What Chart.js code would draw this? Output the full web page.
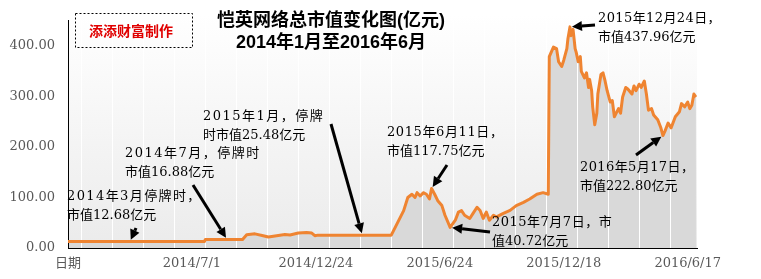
<!DOCTYPE html>
<html>
<head>
<meta charset="utf-8">
<script src="https://cdn.jsdelivr.net/npm/chart.js@4.4.0/dist/chart.umd.min.js"></script>
<style>
  html, body { margin: 0; padding: 0; background: #fff; }
  #wrap { width: 761px; height: 279px; }
  canvas { background: linear-gradient(#ffffff, #ebebeb) 68px 15px / 629px 233px no-repeat; }
</style>
</head>
<body>
<div id="wrap"><canvas id="c" width="761" height="279"></canvas></div>
<script>
// trading-day index since the start of 2014
const dayIdx = [
  0, 132, 133, 169, 173, 181, 189, 194, 202, 210, 215, 223, 231, 236, 239, 242, 313,
  325, 329, 333, 336, 338, 341, 344, 347, 350, 352, 355, 358, 362, 365, 370, 375, 378,
  381, 384, 389, 392, 396, 399, 402, 405, 408, 412, 415, 421, 428, 434, 441, 447, 454,
  460, 465, 466, 470, 473, 475, 478, 480, 483, 484, 486, 487, 489, 491, 492, 494, 496,
  497, 500, 502, 504, 505, 507, 508, 510, 512, 513, 516, 518, 520, 522, 525, 527, 529,
  533, 535, 537, 540, 542, 546, 548, 550, 553, 555, 558, 560, 562, 565, 567, 571, 574,
  576, 578, 581, 584, 588, 592, 594, 597, 600, 602, 604, 606, 608
];
// total market value, 100 million yuan
const marketCap = [
  12.68, 12.68, 16.88, 16.88, 26.3, 28.0, 24.4, 21.9, 24.4, 26.9, 25.8, 29.6, 30.8, 29.6, 24.4, 25.48, 25.48,
  74.0, 100.0, 106.5, 100.0, 109.6, 103.0, 109.6, 106.5, 97.0, 117.75, 106.5, 93.7, 84.0, 64.8, 40.72, 55.0, 71.0,
  74.0, 64.8, 58.5, 68.0, 80.8, 74.4, 58.5, 71.0, 55.0, 64.8, 61.5, 68.0, 74.4, 84.0, 90.4, 97.0, 106.5,
  109.6, 106.5, 379.0, 398.0, 395.0, 369.0, 359.6, 372.0, 395.0, 414.0, 437.96, 420.6, 433.0, 395.0, 388.0, 369.0, 379.0,
  350.0, 337.0, 347.0, 318.0, 334.0, 311.5, 279.6, 244.0, 266.7, 305.0, 343.7, 347.0, 330.8, 311.5, 289.0, 292.0, 260.0,
  276.0, 267.0, 299.0, 318.0, 315.0, 305.0, 321.0, 311.5, 324.4, 318.0, 330.8, 305.0, 273.0, 276.0, 263.5, 254.0, 238.0,
  222.8, 231.5, 247.5, 238.0, 260.0, 270.0, 286.0, 279.6, 289.0, 276.0, 282.7, 305.0, 299.0
];

const tickIdx = [0, 120, 240, 360, 480, 600];
const tickLabels = ['日期', '2014/7/1', '2014/12/24', '2015/6/24', '2015/12/18', '2016/6/17'];
const gridIdx = [13, 43, 73, 103, 133, 163, 193, 223, 253, 283, 313, 343, 373, 403, 433, 463, 493, 523, 553, 583];
const yTicks = [0, 100, 200, 300, 400];

const titleLines = ['恺英网络总市值变化图(亿元)', '2014年1月至2016年6月'];
const stampText = '添添财富制作';

// callouts: day = which point the arrow hits, text/tail are screen offsets
const notes = [
  { day: 60,  lines: ['2014年3月停牌时，', '市值12.68亿元'], tx: 67,  ty: 197, sp: 1.4, tail: [136, 228] },
  { day: 154, lines: ['2014年7月，停牌时', '市值16.88亿元'], tx: 125, ty: 154, sp: 1.5, tail: [193, 185] },
  { day: 285, lines: ['2015年1月，停牌', '时市值25.48亿元'], tx: 203, ty: 117, sp: 1.5, tail: [331, 124] },
  { day: 352, lines: ['2015年6月11日，', '市值117.75亿元'], tx: 387, ty: 133, sp: 0.6, tail: [447, 165] },
  { day: 370, lines: ['2015年7月7日，市', '值40.72亿元'], tx: 492, ty: 223, sp: 0.5, tail: [490, 232] },
  { day: 486, lines: ['2015年12月24日，', '市值437.96亿元'], tx: 598, ty: 19,  sp: 0.4, tail: [595, 25] },
  { day: 576, lines: ['2016年5月17日，', '市值222.80亿元'], tx: 580, ty: 168, sp: 0.4, tail: [636, 155] }
];

function valueAt(day) {
  for (let i = 0; i < dayIdx.length - 1; i++) {
    if (day >= dayIdx[i] && day <= dayIdx[i + 1]) {
      // flat stretches only: take the left value
      return day === dayIdx[i + 1] ? marketCap[i + 1] : marketCap[i];
    }
  }
  return marketCap[marketCap.length - 1];
}

function arrow(ctx, x0, y0, x1, y1) {
  const a = Math.atan2(y1 - y0, x1 - x0);
  const hl = 10, hw = 5;
  const bx = x1 - Math.cos(a) * hl, by = y1 - Math.sin(a) * hl;
  ctx.beginPath();
  ctx.moveTo(x0, y0);
  ctx.lineTo(bx, by);
  ctx.lineWidth = 3;
  ctx.strokeStyle = '#000';
  ctx.stroke();
  ctx.beginPath();
  ctx.moveTo(x1, y1);
  ctx.lineTo(bx + Math.sin(a) * hw, by - Math.cos(a) * hw);
  ctx.lineTo(bx - Math.sin(a) * hw, by + Math.cos(a) * hw);
  ctx.closePath();
  ctx.fillStyle = '#000';
  ctx.fill();
}

const overlay = {
  id: 'overlay',
  afterDraw(chart) {
    const { ctx } = chart;
    const x = chart.scales.x, y = chart.scales.y;
    ctx.save();

    // stamp
    ctx.setLineDash([2, 2]);
    ctx.lineWidth = 1;
    ctx.strokeStyle = '#000';
    ctx.strokeRect(75.5, 13.5, 117, 34);
    ctx.setLineDash([]);
    ctx.font = 'bold 14px "Noto Sans CJK SC"';
    ctx.fillStyle = '#e00000';
    ctx.textAlign = 'center';
    ctx.textBaseline = 'middle';
    ctx.fillText(stampText, 131, 31);

    // title
    ctx.font = 'bold 18px "Liberation Sans", "Noto Sans CJK SC"';
    ctx.fillStyle = '#000';
    ctx.fillText(titleLines[0], 331, 21);
    ctx.fillText(titleLines[1], 331, 43);

    // callouts
    ctx.font = '13px "DejaVu Serif", "Noto Sans CJK SC"';
    ctx.textAlign = 'left';
    notes.forEach(n => {
      const px = x.getPixelForValue(n.day);
      const py = y.getPixelForValue(valueAt(n.day));
      const a = Math.atan2(py - n.tail[1], px - n.tail[0]);
      arrow(ctx, n.tail[0], n.tail[1], px - Math.cos(a) * 2, py - Math.sin(a) * 2);
      ctx.fillStyle = '#000';
      n.lines.forEach((s, k) => {
        ctx.letterSpacing = (k === 0 ? n.sp : 0) + 'px';
        ctx.fillText(s, n.tx, n.ty + k * 19);
      });
      ctx.letterSpacing = '0px';
    });
    ctx.restore();
  }
};

new Chart(document.getElementById('c'), {
  type: 'line',
  data: {
    datasets: [{
      data: dayIdx.map((d, i) => ({ x: d, y: marketCap[i] })),
      borderColor: '#ef8431',
      borderWidth: 3,
      borderJoinStyle: 'round',
      backgroundColor: '#d9d9d9',
      fill: 'origin',
      pointRadius: 0,
      tension: 0
    }]
  },
  options: {
    responsive: false,
    animation: false,
    layout: { padding: { left: 0, right: 64, top: 15, bottom: 0 } },
    plugins: {
      legend: { display: false },
      tooltip: { enabled: false },
      filler: { drawTime: 'beforeDraw' }
    },
    scales: {
      x: {
        type: 'linear',
        min: 0,
        max: 609,
        afterBuildTicks: s => { s.ticks = tickIdx.map(v => ({ value: v })); },
        afterFit: s => { s.height = 31; },
        grid: { display: false, drawTicks: false },
        border: { display: true, color: '#000', width: 1 },
        ticks: {
          autoSkip: false,
          maxRotation: 0,
          padding: 8,
          color: '#595959',
          font: { family: '"DejaVu Serif", "Noto Sans CJK SC"', size: 13 },
          callback: (v, i) => tickLabels[i]
        }
      },
      xg: {
        type: 'linear',
        position: 'bottom',
        min: 0,
        max: 609,
        afterBuildTicks: s => { s.ticks = gridIdx.map(v => ({ value: v })); },
        afterFit: s => { s.height = 0; },
        grid: { color: '#ffffff', lineWidth: 1, drawTicks: false },
        border: { display: false },
        ticks: { display: false }
      },
      y: {
        min: 0,
        max: 450,
        afterBuildTicks: s => { s.ticks = yTicks.map(v => ({ value: v })); },
        afterFit: s => { s.width = 68; },
        grid: { display: false, drawTicks: false },
        border: { display: true, color: '#000', width: 1 },
        ticks: {
          padding: 13,
          color: '#595959',
          font: { family: '"DejaVu Serif"', size: 13 },
          callback: v => v.toFixed(2)
        }
      }
    }
  },
  plugins: [overlay]
});
</script>
</body>
</html>
